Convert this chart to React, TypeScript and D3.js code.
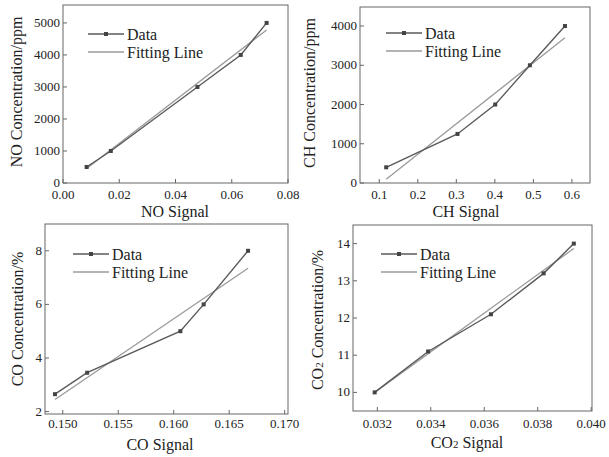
import React from 'react';
import * as d3 from 'd3';

// values
const noSignal = [0.0084, 0.017, 0.0478, 0.0632, 0.0724];
const noConc = [500, 1000, 3000, 4000, 5000];
const noFitX = [0.0085, 0.0724];
const noFitY = [460, 4780];
const noXTicks = [0, 0.02, 0.04, 0.06, 0.08];
const noYTicks = [0, 1000, 2000, 3000, 4000, 5000];

const chSignal = [0.118, 0.303, 0.401, 0.491, 0.582];
const chConc = [400, 1250, 2000, 3000, 4000];
const chFitX = [0.118, 0.582];
const chFitY = [95, 3700];
const chXTicks = [0.1, 0.2, 0.3, 0.4, 0.5, 0.6];
const chYTicks = [0, 1000, 2000, 3000, 4000];

const coSignal = [0.1493, 0.1522, 0.1606, 0.1627, 0.1667];
const coConc = [2.65, 3.45, 5, 6, 8];
const coFitX = [0.1493, 0.1667];
const coFitY = [2.45, 7.35];
const coXTicks = [0.15, 0.155, 0.16, 0.165, 0.17];
const coYTicks = [2, 4, 6, 8];

const co2Signal = [0.0319, 0.0339, 0.03625, 0.03822, 0.03935];
const co2Conc = [10, 11.1, 12.1, 13.2, 14];
const co2FitX = [0.0319, 0.03935];
const co2FitY = [10.0, 13.87];
const co2XTicks = [0.032, 0.034, 0.036, 0.038, 0.04];
const co2YTicks = [10, 11, 12, 13, 14];

const FONT = 'Liberation Serif, Times New Roman, DejaVu Serif, serif';

type PanelProps = {
  box: { l: number; t: number; r: number; b: number };
  xDomain: [number, number];
  yDomain: [number, number];
  xs: number[];
  ys: number[];
  fitX: number[];
  fitY: number[];
  xTicks: number[];
  yTicks: number[];
  xFmt: (v: number) => string;
  yFmt: (v: number) => string;
  xLabelDy: number;
  xTitle: React.ReactNode;
  yTitle: React.ReactNode;
  xTitleX: number;
  xTitleY: number;
  yTitleX: number;
  yTitleY: number;
  legend: { x: number; y: number };
};

const txt = { fontFamily: FONT, fill: '#222' };

function Panel(p: PanelProps) {
  const { box } = p;
  const x = d3.scaleLinear().domain(p.xDomain).range([box.l, box.r]);
  const y = d3.scaleLinear().domain(p.yDomain).range([box.b, box.t]);
  const line = d3.line<number>().x((d, i) => x(p.xs[i])).y((d) => y(d));
  const fitPath = d3.line<number>().x((d, i) => x(p.fitX[i])).y((d) => y(d));
  const lx = p.legend.x;
  const ly = p.legend.y;
  return (
    <g>
      <path d={fitPath(p.fitY) || ''} fill="none" stroke="#9a9a9a" strokeWidth={1.3} />
      <path d={line(p.ys) || ''} fill="none" stroke="#5a5a5a" strokeWidth={1.4} />
      {p.ys.map((v, i) => (
        <rect key={i} x={x(p.xs[i]) - 2} y={y(v) - 2} width={4} height={4} fill="#444" />
      ))}
      <rect x={box.l} y={box.t} width={box.r - box.l} height={box.b - box.t}
        fill="none" stroke="#666" strokeWidth={1} />
      {p.xTicks.map((t) => (
        <g key={'x' + t}>
          <line x1={x(t)} x2={x(t)} y1={box.b} y2={box.b - 4} stroke="#666" />
          <text x={x(t)} y={box.b + p.xLabelDy} textAnchor="middle" fontSize={13} style={txt}>{p.xFmt(t)}</text>
        </g>
      ))}
      {p.yTicks.map((t) => (
        <g key={'y' + t}>
          <line x1={box.l} x2={box.l + 4} y1={y(t)} y2={y(t)} stroke="#666" />
          <text x={box.l - 3} y={y(t) + 4} textAnchor="end" fontSize={13} style={txt}>{p.yFmt(t)}</text>
        </g>
      ))}
      <text x={p.xTitleX} y={p.xTitleY} textAnchor="middle" fontSize={16} style={txt}>{p.xTitle}</text>
      <text transform={`translate(${p.yTitleX},${p.yTitleY}) rotate(-90)`} textAnchor="middle"
        fontSize={16} style={txt}>{p.yTitle}</text>
      <line x1={lx} x2={lx + 36} y1={ly} y2={ly} stroke="#5a5a5a" strokeWidth={1.4} />
      <rect x={lx + 16} y={ly - 2} width={4} height={4} fill="#444" />
      <text x={lx + 39} y={ly + 5.5} fontSize={16} style={txt}>Data</text>
      <line x1={lx} x2={lx + 36} y1={ly + 18} y2={ly + 18} stroke="#9a9a9a" strokeWidth={1.3} />
      <text x={lx + 39} y={ly + 23.5} fontSize={16} style={txt}>Fitting Line</text>
    </g>
  );
}

export default function App() {
  const f2 = d3.format('.2f');
  const f1 = d3.format('.1f');
  const f3 = d3.format('.3f');
  const f0 = d3.format('d');
  return (
    <svg width={609} height={457} style={{ position: 'absolute', left: 0, top: 0, background: '#fff', fontFamily: FONT }}>
      <Panel box={{ l: 63, t: 5, r: 288, b: 183 }} xDomain={[0, 0.08]} yDomain={[0, 5560]}
        xs={noSignal} ys={noConc} fitX={noFitX} fitY={noFitY} xTicks={noXTicks} yTicks={noYTicks}
        xFmt={f2} yFmt={f0} xLabelDy={16} xTitle="NO Signal" yTitle="NO Concentration/ppm"
        xTitleX={175} xTitleY={217} yTitleX={22} yTitleY={92} legend={{ x: 88, y: 34 }} />
      <Panel box={{ l: 360, t: 7, r: 590, b: 183 }} xDomain={[0.05, 0.647]} yDomain={[0, 4485]}
        xs={chSignal} ys={chConc} fitX={chFitX} fitY={chFitY} xTicks={chXTicks} yTicks={chYTicks}
        xFmt={f1} yFmt={f0} xLabelDy={16} xTitle="CH Signal" yTitle="CH Concentration/ppm"
        xTitleX={466} xTitleY={217} yTitleX={315} yTitleY={93} legend={{ x: 386, y: 33 }} />
      <Panel box={{ l: 45, t: 224, r: 288, b: 414 }} xDomain={[0.1484, 0.1703]} yDomain={[1.91, 9]}
        xs={coSignal} ys={coConc} fitX={coFitX} fitY={coFitY} xTicks={coXTicks} yTicks={coYTicks}
        xFmt={f3} yFmt={f0} xLabelDy={14} xTitle="CO Signal" yTitle="CO Concentration/%"
        xTitleX={160} xTitleY={450} yTitleX={23} yTitleY={319} legend={{ x: 73, y: 254 }} />
      <Panel box={{ l: 353, t: 225, r: 592, b: 411 }} xDomain={[0.03109, 0.04003]} yDomain={[9.5, 14.5]}
        xs={co2Signal} ys={co2Conc} fitX={co2FitX} fitY={co2FitY} xTicks={co2XTicks} yTicks={co2YTicks}
        xFmt={f3} yFmt={f0} xLabelDy={17}
        xTitle={<>CO<tspan fontSize={11}>2</tspan> Signal</>}
        yTitle={<>CO<tspan fontSize={11}>2</tspan> Concentration/%</>}
        xTitleX={467} xTitleY={448} yTitleX={323} yTitleY={320} legend={{ x: 381, y: 254 }} />
    </svg>
  );
}
